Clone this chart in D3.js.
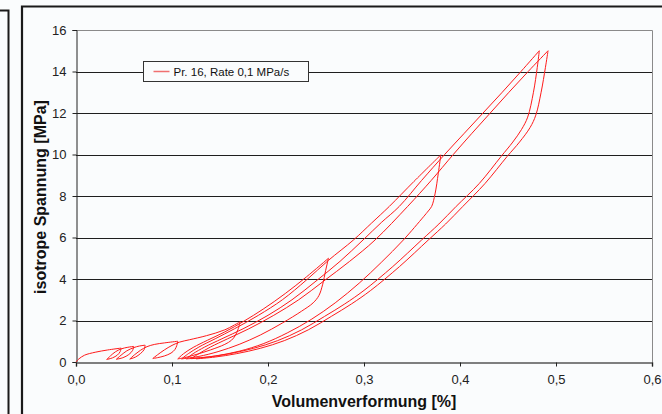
<!DOCTYPE html>
<html>
<head>
<meta charset="utf-8">
<script src="https://cdn.jsdelivr.net/npm/d3@7"></script>
<style>
  body { margin: 0; background: #fafcfd; }
  svg { display: block; font-family: "Liberation Sans", Arial, sans-serif; }
</style>
</head>
<body>
<script>
// strain [%] / stress [MPa] pairs, one array per branch
const load0   = [[0,0],[0.003,0.15],[0.009,0.33],[0.02,0.47],[0.033,0.58],[0.047,0.67]];
const unloadA = [[0.047,0.67],[0.046,0.5],[0.043,0.33],[0.038,0.2],[0.032,0.12]];
const reloadA = [[0.032,0.12],[0.036,0.3],[0.041,0.49],[0.047,0.63],[0.054,0.71],[0.060,0.75]];
const unloadB = [[0.060,0.75],[0.059,0.56],[0.055,0.36],[0.049,0.21],[0.042,0.13]];
const reloadB = [[0.042,0.13],[0.047,0.33],[0.053,0.54],[0.06,0.69],[0.066,0.77],[0.072,0.81]];
const unloadC = [[0.072,0.81],[0.071,0.6],[0.067,0.4],[0.062,0.24],[0.056,0.14]];
const reloadC = [[0.056,0.14],[0.061,0.35],[0.067,0.56],[0.074,0.74],[0.082,0.85],[0.092,0.92],[0.106,1.0]];
const unloadD = [[0.106,1.0],[0.105,0.8],[0.103,0.6],[0.099,0.43],[0.092,0.29],[0.085,0.21],[0.080,0.17]];
const reloadD = [[0.080,0.17],[0.085,0.35],[0.092,0.58],[0.1,0.8],[0.108,0.96],[0.118,1.07],[0.136,1.27],[0.155,1.55],[0.171,1.94]];
const unloadE = [[0.171,1.94],[0.169,1.6],[0.166,1.28],[0.162,1.05],[0.155,0.85],[0.14,0.58],[0.125,0.36],[0.113,0.21],[0.106,0.15]];
const reloadE = [[0.106,0.15],[0.112,0.4],[0.122,0.7],[0.137,1.05],[0.155,1.45],[0.175,1.97],[0.195,2.55],[0.218,3.3],[0.24,4.1],[0.263,5.0]];
const unloadF = [[0.263,5.0],[0.260,4.4],[0.257,3.75],[0.253,3.2],[0.247,2.85],[0.235,2.45],[0.215,1.88],[0.192,1.3],[0.17,0.85],[0.148,0.5],[0.128,0.27],[0.115,0.18],[0.110,0.15]];
const reloadF = [[0.110,0.15],[0.117,0.4],[0.128,0.72],[0.145,1.12],[0.165,1.6],[0.19,2.25],[0.215,3.0],[0.24,3.95],[0.263,4.9],[0.289,5.88],[0.308,6.7],[0.3264,7.5],[0.352,8.7],[0.380,9.98]];
const unloadG = [[0.380,9.98],[0.3774,9.1],[0.374,8.1],[0.3705,7.5],[0.367,7.28],[0.362,7.0],[0.341,5.88],[0.318,4.8],[0.295,3.8],[0.27,2.85],[0.245,2.05],[0.22,1.4],[0.195,0.88],[0.17,0.52],[0.145,0.29],[0.125,0.19],[0.115,0.15]];
const reloadG = [[0.115,0.15],[0.122,0.4],[0.134,0.72],[0.152,1.12],[0.174,1.6],[0.2,2.25],[0.225,3.0],[0.25,3.9],[0.275,4.85],[0.299,5.88],[0.318,6.72],[0.3368,7.5],[0.36,8.75],[0.384,10.0],[0.404,11.0],[0.424,12.0],[0.444,13.0],[0.4635,14.0],[0.4826,15.0]];
const unloadH = [[0.4826,15.0],[0.4805,14.2],[0.4765,13.0],[0.4705,11.8],[0.464,11.2],[0.455,10.6],[0.4427,9.9],[0.42,8.6],[0.396,7.5],[0.378,6.65],[0.36,5.88],[0.33,4.6],[0.30,3.45],[0.28,2.8],[0.259,2.2],[0.235,1.55],[0.21,1.03],[0.185,0.66],[0.16,0.4],[0.138,0.24],[0.12,0.16]];
const reloadH = [[0.12,0.16],[0.128,0.4],[0.14,0.72],[0.158,1.12],[0.18,1.6],[0.206,2.25],[0.232,3.0],[0.258,3.9],[0.285,4.85],[0.3115,5.88],[0.3455,7.5],[0.37,8.75],[0.393,10.0],[0.412,11.0],[0.4315,12.0],[0.451,13.0],[0.471,14.0],[0.4917,15.0]];
const unloadI = [[0.4917,15.0],[0.489,14.2],[0.4845,13.0],[0.479,11.9],[0.473,11.3],[0.462,10.6],[0.449,9.9],[0.426,8.6],[0.403,7.5],[0.385,6.65],[0.367,5.88],[0.337,4.6],[0.307,3.45],[0.287,2.8],[0.266,2.2],[0.242,1.55],[0.217,1.03],[0.192,0.66],[0.167,0.4],[0.145,0.24],[0.125,0.15]];

const branches = [load0, unloadA, reloadA, unloadB, reloadB, unloadC, reloadC, unloadD, reloadD,
  unloadE, reloadE, unloadF, reloadF, unloadG, reloadG, unloadH, reloadH, unloadI];

const xTicks = [0, 0.1, 0.2, 0.3, 0.4, 0.5, 0.6];
const yTicks = [0, 2, 4, 6, 8, 10, 12, 14, 16];
const seriesName = 'Pr. 16, Rate 0,1 MPa/s';

const width = 662, height = 414;
const margin = { left: 76, right: 10, top: 30, bottom: 52 };

const svg = d3.select('body').append('svg')
  .attr('width', width)
  .attr('height', height);

svg.append('rect').attr('width', width).attr('height', height).attr('fill', '#fafcfd');

// frames around the chart
svg.append('path').attr('d', 'M0,10.5H8.5V414').attr('fill', 'none').attr('stroke', '#1a1a1a').attr('stroke-width', 2);
svg.append('path').attr('d', 'M22,414V6.5H662').attr('fill', 'none').attr('stroke', '#1a1a1a').attr('stroke-width', 2.2);

const x = d3.scaleLinear().domain([0, 0.6]).range([margin.left, width - margin.right]);
const y = d3.scaleLinear().domain([0, 16]).range([height - margin.bottom, margin.top]);

// gridlines
svg.append('g')
  .selectAll('line')
  .data(yTicks.filter(d => d > 0 && d < 16))
  .join('line')
  .attr('x1', x(0)).attr('x2', x(0.6))
  .attr('y1', d => Math.round(y(d)) + 0.5).attr('y2', d => Math.round(y(d)) + 0.5)
  .attr('stroke', '#1e1e1e');

// plot border top / right
svg.append('path')
  .attr('d', `M${x(0)},${y(16) + 0.5}H${x(0.6) + 0.5}V${y(0)}`)
  .attr('fill', 'none').attr('stroke', '#8a8a8a');

const fmt = d => d.toFixed(1).replace('.', ',');

const yAxis = svg.append('g')
  .attr('transform', `translate(${x(0) + 0.5},0)`)
  .call(d3.axisLeft(y).tickValues(yTicks).tickSize(4).tickPadding(6).tickFormat(d3.format('d')));

const xAxis = svg.append('g')
  .attr('transform', `translate(0,${y(0) + 0.5})`)
  .call(d3.axisBottom(x).tickValues(xTicks).tickSize(4).tickPadding(8).tickFormat(fmt));

[xAxis, yAxis].forEach(g => {
  g.select('.domain').attr('stroke', '#222');
  g.selectAll('.tick line').attr('stroke', '#222');
  g.selectAll('.tick text').attr('fill', '#222').attr('font-size', 13)
    .attr('font-family', '"Liberation Sans", Arial, sans-serif');
});
xAxis.select('.domain').attr('stroke', '#555').attr('stroke-width', 1.5);

// data
const line = d3.line()
  .x(d => x(d[0]))
  .y(d => y(d[1]))
  .curve(d3.curveCatmullRom.alpha(0.5));

svg.append('g')
  .selectAll('path')
  .data(branches)
  .join('path')
  .attr('d', line)
  .attr('fill', 'none')
  .attr('stroke', '#ff1a1a')
  .attr('stroke-width', 1);

// legend
const legend = svg.append('g').attr('transform', 'translate(143.5,61.5)');
legend.append('rect')
  .attr('width', 165).attr('height', 20)
  .attr('fill', '#fafcfd').attr('stroke', '#333');
legend.append('line')
  .attr('x1', 10).attr('x2', 26).attr('y1', 10).attr('y2', 10)
  .attr('stroke', '#f07070').attr('stroke-width', 1.5);
legend.append('text')
  .attr('x', 30).attr('y', 14)
  .attr('font-size', 11.5).attr('fill', '#111')
  .text(seriesName);

// axis titles
svg.append('text')
  .attr('x', 364).attr('y', 407)
  .attr('text-anchor', 'middle')
  .attr('font-size', 16).attr('font-weight', 'bold').attr('fill', '#111')
  .text('Volumenverformung [%]');

svg.append('text')
  .attr('transform', `translate(46,197) rotate(-90)`)
  .attr('text-anchor', 'middle')
  .attr('font-size', 16).attr('font-weight', 'bold').attr('fill', '#111')
  .text('isotrope Spannung [MPa]');
</script>
</body>
</html>
